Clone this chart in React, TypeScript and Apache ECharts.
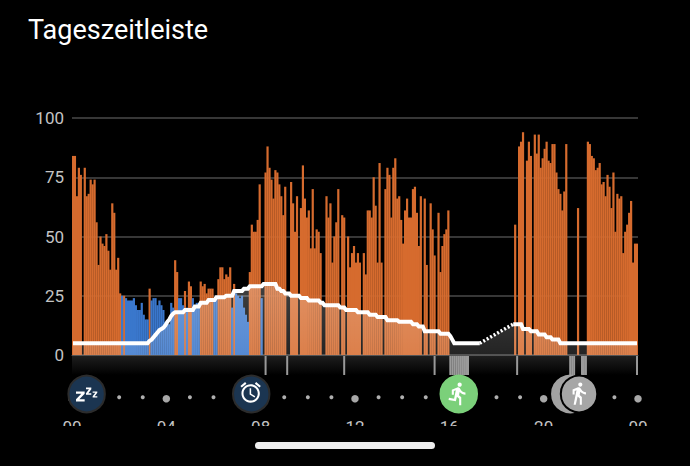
import React, { useEffect, useRef } from "react";
import * as echarts from "echarts";

const FONT = "Roboto, 'Noto Sans', sans-serif";
const title = "Tageszeitleiste";
const yTicks = [0, 25, 50, 75, 100];
const hourLabelStep = 4;

// Five-minute activity level.
const levels = [
  84,84,67,79,76,0,79,67,68,74,72,74,56,38,50,47,46,51,44,36,64,60,36,41,26,
  25,25,24,23,23,23,24,21,19,19,22,17,15,15,28,23,24,24,21,23,21,19,14,13,13,
  22,20,40,35,24,24,21,27,20,31,29,24,20,22,22,31,29,30,26,28,28,28,24,24,32,
  37,37,32,34,33,37,20,30,26,25,24,25,20,17,14,35,55,52,52,57,72,24,0,77,88,
  79,74,66,78,77,72,67,59,71,0,0,73,64,52,67,0,62,80,66,58,61,45,70,45,53,
  52,43,0,0,67,58,64,39,50,56,70,0,59,58,0,50,37,43,46,39,43,39,0,43,34,
  61,61,58,75,63,39,81,39,0,70,79,76,58,79,83,66,67,57,47,61,66,58,58,70,71,
  60,46,67,0,66,38,0,64,53,42,0,60,35,46,51,53,61,0,0,0,0,0,0,0,0,
  0,0,0,0,0,0,0,0,0,0,0,0,0,0,0,0,0,0,0,0,0,0,0,0,0,
  55,0,88,90,94,0,82,90,84,0,93,85,93,79,83,87,90,82,81,89,89,77,70,68,61,
  69,89,0,0,0,0,0,62,0,0,0,0,90,89,84,83,78,79,81,72,73,67,76,71,62,
  77,52,68,66,67,43,52,55,60,65,39,47,47,
];

// Slots drawn in blue (rest); all the others are orange.
const restSlots = [
  25,27,28,29,30,31,32,33,34,35,36,37,38,40,41,42,43,44,45,46,47,48,49,50,51,
  54,55,56,58,61,62,63,64,72,73,81,83,84,85,86,87,88,89,96,
];

// Body battery as [value, number of slots].
const batteryRuns: [number | null, number][] = [
  [5,39],[6,1],[6.5,1],[7.5,1],[8.5,1],[9.5,1],[10.5,1],[11,1],[11.5,1],[12.5,1],[14,1],[15,1],[16.5,1],[17.5,1],
  [18,5],[19,5],[20.5,3],[22,4],[23.2,4],[24.4,5],[25,4],[27,5],[28,3],[29,7],[30,7],[28,2],[27,2],[26,3],[25,5],
  [24,4],[23,6],[22,2],[21,8],[20,3],[19,6],[18,6],[17,4],[16,5],[14.7,6],[14,7],[13,3],[12,3],[10,8],[9,5],
  [8,1],[6.5,1],[5,14],[null,16],[13,5],[11,4],[10,4],[8.6,4],[7.5,3],[6.5,4],[5,40],
];
// Estimated stretch, drawn dotted between its two ends.
const estimatedEnds: [number, number][] = [[207,5],[224,13]];

// Slots with a grey mark in the strip below the chart.
const activitySlots = [98,109,138,184,192,193,194,195,196,197,198,199,200,201,226,253,254,255,259,260,261,287];

// Timeline row
const smallDotHours = [1,2,3,5,6,7,9,10,11,13,14,15,17,18,19,21,22,23];
const largeDotHours = [0,4,8,12,16,20,24];
const eventHours = [0.62,7.6,16.4,21.13,21.5];
const eventColors = ["#1b3551","#1b3551","#7bd07a","#a2a2a2","#a6a6a6"];
const eventRings = ["#2c2c2c","#2c2c2c","#7bd07a","#a2a2a2","#000000"];

const ORANGE = "#d66b2e";
const BLUE = "#3a77cc";

const D_ZZZ = "M0 12H26V19L10 35H26V42H0V35L16 19H0ZM30 0H46V5L37 17H46V22H30V17L39 5H30ZM50 12H64V16L56 26H64V30H50V26L58 16H50Z";
const D_ALARM = "M22 5.72l-4.6-3.86-1.29 1.53 4.6 3.86L22 5.72zM7.88 3.39L6.6 1.86 2 5.71l1.29 1.53 4.59-3.85zM12.5 8H11v6l4.75 2.85.75-1.23-4-2.37V8zM12 4c-4.97 0-9 4.03-9 9s4.03 9 9 9 9-4.03 9-9-4.03-9-9-9zm0 16c-3.87 0-7-3.13-7-7s3.13-7 7-7 7 3.13 7 7-3.13 7-7 7z";
const D_RUN = "M13.49 5.48c1.1 0 2-.9 2-2s-.9-2-2-2-2 .9-2 2 .9 2 2 2zm-3.6 13.9l1-4.4 2.1 2v6h2v-7.5l-2.1-2 .6-3c1.3 1.5 3.3 2.5 5.5 2.5v-2c-1.9 0-3.5-1-4.3-2.4l-1-1.6c-.4-.6-1-1-1.7-1-.3 0-.5.1-.8.1l-5.2 2.2v4.7h2v-3.4l1.8-.7-1.6 8.1-4.9-1-.4 2 7 1.4z";
const D_WALK = "M13.5 5.5c1.1 0 2-.9 2-2s-.9-2-2-2-2 .9-2 2 .9 2 2 2zM9.8 8.9L7 23h2.1l1.8-8 2.1 2v6h2v-7.5l-2.1-2 .6-3C14.8 12 16.8 13 19 13v-2c-1.9 0-3.5-1-4.3-2.4l-1-1.6c-.4-.6-1-1-1.7-1-.3 0-.5.1-.8.1L6 8.3V13h2V9.6l1.8-.7z";

echarts.graphic.registerShape("zzzGlyph", echarts.graphic.extendPath(D_ZZZ, {}));
echarts.graphic.registerShape("alarmGlyph", echarts.graphic.extendPath(D_ALARM, {}));
echarts.graphic.registerShape("runGlyph", echarts.graphic.extendPath(D_RUN, {}));
echarts.graphic.registerShape("walkGlyph", echarts.graphic.extendPath(D_WALK, {}));

export default function App() {
  const ref = useRef<HTMLDivElement>(null);
  useEffect(() => {
    const chart = echarts.init(ref.current!, undefined, { renderer: "svg" });
    const slots = levels.map((_, i) => String(i));
    const rest = new Set(restSlots);
    const battery: (number | null)[] = [];
    batteryRuns.forEach(([v, n]) => { for (let k = 0; k < n; k++) battery.push(v); });
    const estimated: (number | null)[] = levels.map(() => null);
    estimatedEnds.forEach(([i, v]) => { estimated[i] = v; });
    const stress = levels.map((v, i) => (rest.has(i) ? 0 : v));
    const rested = levels.map((v, i) => (rest.has(i) ? v : 0));
    const marks = new Set(activitySlots);
    const strip = levels.map((_, i) => (marks.has(i) ? 1 : 0));
    const fade = () => new echarts.graphic.LinearGradient(0, 284, 0, 355, [
      { offset: 0, color: "rgba(255,255,255,0.36)" },
      { offset: 1, color: "rgba(255,255,255,0.2)" },
    ], true);

    chart.setOption({
      animation: false,
      backgroundColor: "#000",
      title: { text: title, left: 28, top: 16, padding: 0, textStyle: { color: "#fff", fontSize: 27, fontWeight: 400, fontFamily: FONT } },
      grid: [
        { left: 72, top: 118, width: 566, height: 237 },
        { left: 72, top: 356, width: 566, height: 19, show: true, borderWidth: 0,
          backgroundColor: new echarts.graphic.LinearGradient(0, 0, 0, 1, [{ offset: 0, color: "#1e1e1e" }, { offset: 1, color: "#000" }]) },
        { left: 72, top: 380, width: 566, height: 36 },
      ],
      xAxis: [
        { type: "category", gridIndex: 0, data: slots, axisLabel: { show: false }, axisTick: { show: false }, axisLine: { lineStyle: { color: "#555" } } },
        { type: "category", gridIndex: 1, data: slots, axisLabel: { show: false }, axisTick: { show: false }, axisLine: { show: false } },
        { type: "value", gridIndex: 2, min: 0, max: 24, interval: hourLabelStep, splitLine: { show: false }, axisTick: { show: false },
          axisLine: { show: false, onZero: false },
          axisLabel: { color: "#c4c4c4", fontSize: 17, fontFamily: FONT, margin: 2, hideOverlap: false,
            formatter: (v: number) => String(v % 24).padStart(2, "0") } },
      ],
      yAxis: [
        { type: "value", gridIndex: 0, min: 0, max: 100, interval: 25, axisLine: { show: false }, axisTick: { show: false },
          axisLabel: { color: "#c4c4c4", fontSize: 17, fontFamily: FONT, margin: 8,
            formatter: (v: number) => (yTicks.includes(v) ? String(v) : "") },
          splitLine: { lineStyle: { color: "#4a4a4a", width: 1.5 } } },
        { type: "value", gridIndex: 1, min: 0, max: 1, show: false },
        { type: "value", gridIndex: 2, min: 0, max: 36, inverse: true, show: false },
      ],
      series: [
        { type: "bar", xAxisIndex: 0, yAxisIndex: 0, data: stress, barWidth: 2.2, barGap: "-100%", itemStyle: { color: ORANGE, opacity: 1 }, silent: true },
        { type: "bar", xAxisIndex: 0, yAxisIndex: 0, data: rested, barWidth: 2.2, barGap: "-100%", itemStyle: { color: BLUE, opacity: 1 }, silent: true },
        { type: "line", xAxisIndex: 0, yAxisIndex: 0, data: battery, showSymbol: false, z: 5, silent: true,
          lineStyle: { color: "#fff", width: 4, join: "miter" }, areaStyle: { color: fade(), origin: "start" } },
        { type: "line", xAxisIndex: 0, yAxisIndex: 0, data: estimated, showSymbol: false, connectNulls: true, z: 5, silent: true,
          lineStyle: { color: "#fff", width: 3.5, type: [2, 2] }, areaStyle: { color: fade(), origin: "start" } },
        { type: "bar", xAxisIndex: 1, yAxisIndex: 1, data: strip, barWidth: 2, itemStyle: { color: "#9a9a9a" }, silent: true },
        { type: "scatter", xAxisIndex: 2, yAxisIndex: 2, data: smallDotHours.map((h) => [h, 17.3]), symbolSize: 4, itemStyle: { color: "#b0b0b0", opacity: 1 }, silent: true },
        { type: "scatter", xAxisIndex: 2, yAxisIndex: 2, data: largeDotHours.map((h) => [h, 18.7]), symbolSize: 7.5, itemStyle: { color: "#a8a8a8", opacity: 1 }, silent: true },
        { type: "scatter", xAxisIndex: 2, yAxisIndex: 2, z: 6, silent: true, symbolSize: 36.5,
          data: eventHours.map((h, i) => ({ value: [h, 14], itemStyle: { color: eventColors[i], borderColor: eventRings[i], borderWidth: 2, opacity: 1 } })) },
      ],
      graphic: [
        { type: "rect", z: 100, shape: { x: 0, y: 426, width: 690, height: 40 }, style: { fill: "#000" } },
        { type: "rect", z: 101, shape: { x: 255, y: 442, width: 180, height: 7, r: 3.5 }, style: { fill: "#eeeeee" } },
        { type: "zzzGlyph", z: 101, x: 76, y: 387.5, scaleX: 1 / 3, scaleY: 1 / 3, style: { fill: "#fff" } },
        { type: "alarmGlyph", z: 101, x: 238.4, y: 380.2, scaleX: 1.02, scaleY: 1.02, style: { fill: "#fff" } },
        { type: "runGlyph", z: 101, x: 445.5, y: 381, scaleX: 1.05, scaleY: 1.05, style: { fill: "#fff" } },
        { type: "walkGlyph", z: 101, x: 566.4, y: 381, scaleX: 1.03, scaleY: 1.03, style: { fill: "#fff" } },
      ],
    });
    return () => chart.dispose();
  }, []);
  return <div ref={ref} style={{ position: "fixed", left: 0, top: 0, width: 690, height: 466, background: "#000" }} />;
}
